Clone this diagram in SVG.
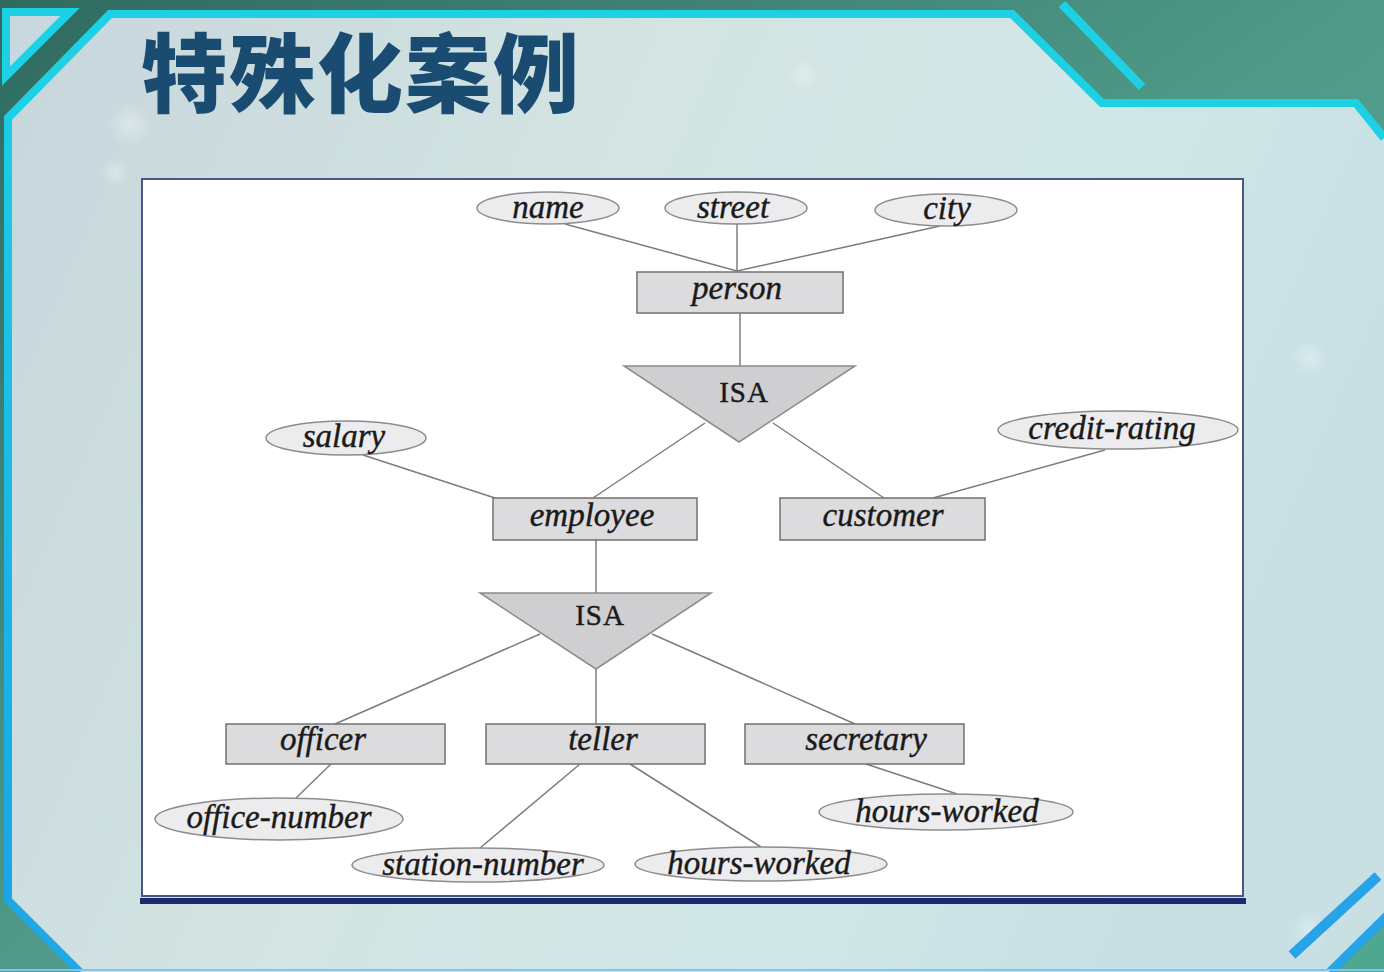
<svg xmlns="http://www.w3.org/2000/svg" width="1384" height="972" viewBox="0 0 1384 972">
  <defs>
    <linearGradient id="bgGreen" x1="0" y1="0" x2="1" y2="1">
      <stop offset="0" stop-color="#2f6a5f"/>
      <stop offset="0.5" stop-color="#4f9a88"/>
      <stop offset="1" stop-color="#5fb09c"/>
    </linearGradient>
    <linearGradient id="panelFill" x1="0" y1="0" x2="1" y2="0.3">
      <stop offset="0" stop-color="#c6d6dc"/>
      <stop offset="0.45" stop-color="#d3e4e2"/>
      <stop offset="0.8" stop-color="#d0e6e6"/>
      <stop offset="1" stop-color="#c8e0e4"/>
    </linearGradient>
    <linearGradient id="edgeLeft" x1="0" y1="0" x2="0" y2="1">
      <stop offset="0" stop-color="#1ed0e4"/>
      <stop offset="1" stop-color="#1aa6e6"/>
    </linearGradient>
    <radialGradient id="bokeh">
      <stop offset="0" stop-color="#ffffff" stop-opacity="0.35"/>
      <stop offset="1" stop-color="#ffffff" stop-opacity="0"/>
    </radialGradient>
    <style>
      .attr { fill: #ececef; stroke: #8c8c8c; stroke-width: 1.5; }
      .ent { fill: #dcdcdf; stroke: #707070; stroke-width: 1.5; }
      .isa { fill: #cfcfd2; stroke: #8c8c8c; stroke-width: 1.5; }
      .lbl { font-family: "Liberation Serif", "DejaVu Serif", serif; font-style: italic; font-size: 33px; fill: #1a1a1a; stroke: #1a1a1a; stroke-width: 0.4; text-anchor: middle; }
      .isaLbl { font-family: "Liberation Serif", "DejaVu Serif", serif; font-size: 29px; letter-spacing: 1px; fill: #1a1a1a; stroke: #1a1a1a; stroke-width: 0.4; text-anchor: middle; }
      .conn line { stroke: #7c7c7c; stroke-width: 1.5; }
      .title { font-family: "Noto Sans CJK SC", "Noto Sans CJK JP", sans-serif; font-weight: 900; font-size: 86px; letter-spacing: 2px; fill: #1a4c72; }
    </style>
  </defs>

  <!-- backdrop -->
  <rect x="0" y="0" width="1384" height="972" fill="url(#bgGreen)"/>

  <!-- light content panel with clipped corners -->
  <path d="M110,12 L1012,12 L1102,103 L1356,103 L1384,138 L1384,972 L78,972 L8,902 L8,118 Z" fill="url(#panelFill)"/>
  <!-- small corner triangle -->
  <path d="M6,12 L70,12 L6,76 Z" fill="#c9d8de" stroke="#1ed0e4" stroke-width="8" stroke-linejoin="miter"/>

  <!-- faint bokeh spots -->
  <circle cx="130" cy="125" r="22" fill="url(#bokeh)"/>
  <circle cx="115" cy="172" r="14" fill="url(#bokeh)"/>
  <circle cx="804" cy="75" r="16" fill="url(#bokeh)"/>
  <circle cx="1310" cy="358" r="18" fill="url(#bokeh)"/>
  <circle cx="1310" cy="930" r="18" fill="url(#bokeh)"/>

  <!-- panel edge strokes -->
  <polyline points="8,902 8,118 110,14 1012,14 1102,103 1356,103 1384,138" fill="none" stroke="url(#edgeLeft)" stroke-width="8" stroke-linejoin="miter"/>
  <polyline points="8,118 110,14 1012,14 1102,103 1356,103 1384,138" fill="none" stroke="#1ed0e4" stroke-width="8" stroke-linejoin="miter"/>
  <polyline points="8,900 80,972" fill="none" stroke="#1ea8e8" stroke-width="8"/>
  <line x1="1062" y1="4" x2="1142" y2="87" stroke="#1ed0e4" stroke-width="9"/>
  <!-- bottom-right accents -->
  <path d="M1384,917 L1384,972 L1332,972 Z" fill="#4ea88f"/>
  <line x1="1292" y1="955" x2="1378" y2="876" stroke="#27a4e8" stroke-width="10"/>
  <line x1="1330" y1="972" x2="1390" y2="913" stroke="#27a4e8" stroke-width="9"/>
  <line x1="0" y1="970" x2="1384" y2="970" stroke="#7fc6ea" stroke-width="2"/>

  <!-- title -->
  <text class="title" x="141" y="106">特殊化案例</text>

  <!-- diagram sheet -->
  <rect x="140" y="898" width="1106" height="6" fill="#1a2a6e"/>
  <rect x="142" y="179" width="1101" height="717" fill="#ffffff" stroke="#4a5688" stroke-width="2"/>

  <!-- connectors -->
  <g id="connectors" class="conn">
    <line x1="565" y1="224" x2="737" y2="271"/>
    <line x1="737" y1="224" x2="737" y2="271"/>
    <line x1="940" y1="226" x2="737" y2="271"/>
    <line x1="740" y1="313" x2="740" y2="366"/>
    <line x1="705" y1="423" x2="593" y2="498"/>
    <line x1="773" y1="423" x2="884" y2="498"/>
    <line x1="363" y1="455" x2="495" y2="498"/>
    <line x1="1105" y1="450" x2="933" y2="498"/>
    <line x1="596" y1="540" x2="596" y2="593"/>
    <line x1="540" y1="634" x2="335" y2="724"/>
    <line x1="596" y1="669" x2="596" y2="724"/>
    <line x1="652" y1="634" x2="855" y2="724"/>
    <line x1="331" y1="764" x2="296" y2="798"/>
    <line x1="580" y1="764" x2="480" y2="848"/>
    <line x1="630" y1="764" x2="761" y2="847"/>
    <line x1="866" y1="764" x2="957" y2="794"/>
  </g>

  <!-- attribute ellipses -->
  <g id="attr-name"><ellipse class="attr" cx="548" cy="208" rx="71" ry="16"/><text class="lbl" x="548" y="218">name</text></g>
  <g id="attr-street"><ellipse class="attr" cx="736" cy="208" rx="71" ry="16"/><text class="lbl" x="733" y="218">street</text></g>
  <g id="attr-city"><ellipse class="attr" cx="946" cy="210" rx="71" ry="16"/><text class="lbl" x="947" y="219">city</text></g>
  <g id="attr-salary"><ellipse class="attr" cx="346" cy="438" rx="80" ry="17"/><text class="lbl" x="344" y="447">salary</text></g>
  <g id="attr-credit-rating"><ellipse class="attr" cx="1118" cy="430" rx="120" ry="19"/><text class="lbl" x="1112" y="439">credit-rating</text></g>
  <g id="attr-office-number"><ellipse class="attr" cx="279" cy="819" rx="124" ry="21"/><text class="lbl" x="279" y="828">office-number</text></g>
  <g id="attr-station-number"><ellipse class="attr" cx="478" cy="865" rx="126" ry="17"/><text class="lbl" x="483" y="875">station-number</text></g>
  <g id="attr-teller-hours"><ellipse class="attr" cx="761" cy="864" rx="126" ry="17"/><text class="lbl" x="759" y="874">hours-worked</text></g>
  <g id="attr-secretary-hours"><ellipse class="attr" cx="946" cy="812" rx="127" ry="18"/><text class="lbl" x="947" y="822">hours-worked</text></g>

  <!-- entity sets -->
  <g id="ent-person"><rect class="ent" x="637" y="272" width="206" height="41"/><text class="lbl" x="737" y="299">person</text></g>
  <g id="ent-employee"><rect class="ent" x="493" y="498" width="204" height="42"/><text class="lbl" x="592" y="526">employee</text></g>
  <g id="ent-customer"><rect class="ent" x="780" y="498" width="205" height="42"/><text class="lbl" x="883" y="526">customer</text></g>
  <g id="ent-officer"><rect class="ent" x="226" y="724" width="219" height="40"/><text class="lbl" x="323" y="750">officer</text></g>
  <g id="ent-teller"><rect class="ent" x="486" y="724" width="219" height="40"/><text class="lbl" x="603" y="750">teller</text></g>
  <g id="ent-secretary"><rect class="ent" x="745" y="724" width="219" height="40"/><text class="lbl" x="866" y="750">secretary</text></g>

  <!-- ISA specialisation triangles -->
  <g id="isa-person"><polygon class="isa" points="624,366 855,366 739,442"/><text class="isaLbl" x="744" y="402">ISA</text></g>
  <g id="isa-employee"><polygon class="isa" points="480,593 711,593 596,669"/><text class="isaLbl" x="600" y="625">ISA</text></g>
</svg>
